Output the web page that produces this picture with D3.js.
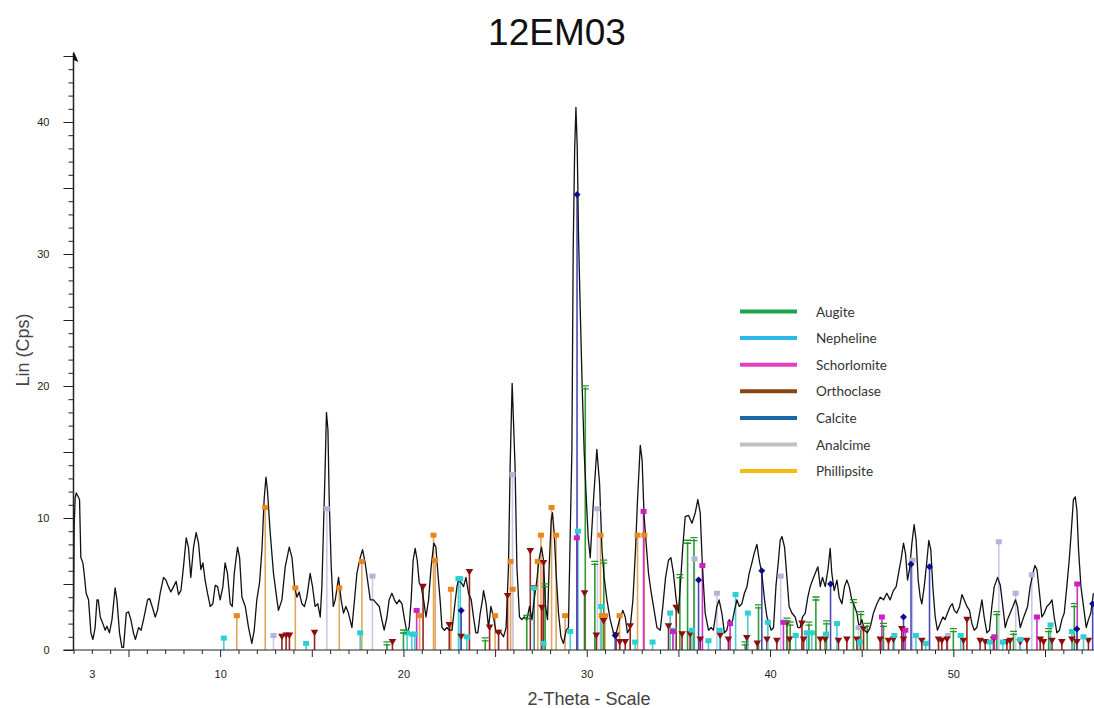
<!DOCTYPE html>
<html>
<head>
<meta charset="utf-8">
<script src="https://cdn.jsdelivr.net/npm/d3@7"></script>
<style>
	body { margin: 0; background: #fff; }
	svg { display: block; }
	.tick text { font-family: "Liberation Sans", Arial, sans-serif; font-size: 11px; fill: #222; }
	.legend text { font-family: Lato, "Noto Sans", sans-serif; font-size: 13.5px; fill: #333; }
</style>
</head>
<body>
<svg id="chart"></svg>
<script>
const traceTheta = [
	2.00, 2.04, 2.09, 2.15, 2.22, 2.33, 2.40, 2.51, 2.58, 2.69, 2.82, 2.95, 3.06, 3.18, 3.28, 3.35, 3.46, 3.60, 3.73, 3.82,
	3.96, 4.10, 4.27, 4.37, 4.51, 4.64, 4.73, 4.88, 5.00, 5.13, 5.27, 5.38, 5.55, 5.69, 5.82, 6.04, 6.15, 6.29, 6.46, 6.58,
	6.73, 6.91, 7.04, 7.18, 7.31, 7.46, 7.60, 7.73, 7.86, 8.00, 8.15, 8.27, 8.40, 8.55, 8.69, 8.82, 8.95, 9.06, 9.18, 9.31,
	9.46, 9.60, 9.73, 9.86, 10.00, 10.15, 10.27, 10.40, 10.55, 10.66, 10.77, 10.95, 11.06, 11.19, 11.37, 11.55, 11.73, 11.86, 12.00, 12.15,
	12.28, 12.40, 12.50, 12.58, 12.73, 12.91, 13.10, 13.18, 13.37, 13.55, 13.77, 13.92, 14.06, 14.19, 14.31, 14.46, 14.60, 14.73, 14.91, 15.04,
	15.18, 15.33, 15.46, 15.55, 15.64, 15.73, 15.80, 15.88, 15.95, 16.06, 16.17, 16.28, 16.46, 16.60, 16.73, 16.86, 17.00, 17.19, 17.33, 17.46,
	17.64, 17.77, 17.91, 18.06, 18.19, 18.37, 18.55, 18.68, 18.82, 18.95, 19.10, 19.22, 19.37, 19.51, 19.64, 19.77, 19.92, 20.06, 20.19, 20.31,
	20.42, 20.53, 20.64, 20.75, 20.86, 20.97, 21.10, 21.23, 21.37, 21.51, 21.66, 21.77, 21.88, 22.00, 22.10, 22.24, 22.37, 22.50, 22.65, 22.79,
	22.92, 23.00, 23.15, 23.28, 23.41, 23.55, 23.70, 23.82, 23.95, 24.06, 24.19, 24.31, 24.37, 24.51, 24.64, 24.77, 24.91, 25.06, 25.19, 25.32,
	25.46, 25.60, 25.73, 25.82, 25.93, 26.09, 26.19, 26.33, 26.46, 26.59, 26.73, 26.88, 27.01, 27.13, 27.28, 27.39, 27.53, 27.64, 27.75, 27.86,
	27.95, 28.06, 28.13, 28.22, 28.33, 28.46, 28.59, 28.73, 28.88, 29.00, 29.10, 29.19, 29.26, 29.34, 29.41, 29.48, 29.55, 29.64, 29.75, 29.86,
	29.97, 30.08, 30.19, 30.37, 30.55, 30.70, 30.83, 30.95, 31.10, 31.28, 31.46, 31.61, 31.79, 31.97, 32.10, 32.22, 32.37, 32.52, 32.66, 32.77,
	32.92, 33.02, 33.13, 33.24, 33.37, 33.50, 33.64, 33.83, 34.01, 34.15, 34.30, 34.46, 34.59, 34.73, 34.88, 35.00, 35.10, 35.24, 35.37, 35.55,
	35.74, 35.92, 36.06, 36.19, 36.31, 36.46, 36.64, 36.79, 36.91, 37.10, 37.22, 37.37, 37.51, 37.64, 37.77, 37.92, 38.06, 38.19, 38.32, 38.46,
	38.60, 38.74, 38.86, 39.01, 39.13, 39.28, 39.41, 39.55, 39.70, 39.83, 39.95, 40.06, 40.19, 40.32, 40.46, 40.55, 40.65, 40.79, 40.92, 41.04,
	41.19, 41.37, 41.52, 41.64, 41.77, 41.92, 42.06, 42.19, 42.32, 42.46, 42.61, 42.74, 42.86, 43.01, 43.16, 43.28, 43.37, 43.50, 43.65, 43.77,
	43.92, 44.06, 44.19, 44.32, 44.46, 44.61, 44.74, 44.86, 45.01, 45.15, 45.30, 45.46, 45.64, 45.83, 46.01, 46.19, 46.37, 46.55, 46.73, 46.88,
	47.01, 47.14, 47.28, 47.39, 47.50, 47.61, 47.74, 47.86, 47.97, 48.08, 48.19, 48.28, 48.41, 48.56, 48.66, 48.77, 48.88, 49.01, 49.13, 49.28,
	49.43, 49.55, 49.68, 49.83, 49.94, 50.05, 50.19, 50.34, 50.47, 50.59, 50.74, 50.88, 51.01, 51.14, 51.28, 51.43, 51.56, 51.68, 51.83, 51.97,
	52.10, 52.23, 52.34, 52.41, 52.56, 52.70, 52.83, 52.95, 53.10, 53.25, 53.39, 53.50, 53.65, 53.79, 53.92, 54.05, 54.19, 54.34, 54.45, 54.56,
	54.70, 54.83, 54.96, 55.10, 55.25, 55.38, 55.50, 55.65, 55.79, 55.92, 56.05, 56.19, 56.32, 56.43, 56.55, 56.65, 56.74, 56.83, 56.96, 57.10,
	57.25, 57.37, 57.50, 57.64
];
const traceCounts = [
	3.0, 9.5, 11.5, 11.9, 11.7, 11.4, 7.0, 6.6, 5.8, 4.3, 3.8, 1.3, 0.8, 1.7, 3.8, 3.8, 2.5, 2.0, 1.5, 1.8,
	1.3, 2.3, 4.7, 3.8, 1.3, 0.2, 0.2, 2.8, 2.9, 2.3, 1.3, 0.8, 1.7, 1.5, 2.3, 3.8, 3.9, 3.3, 2.5, 3.0,
	4.3, 5.5, 5.3, 4.8, 4.4, 4.8, 5.2, 4.2, 4.5, 6.3, 8.5, 7.8, 5.5, 7.8, 8.9, 8.1, 6.1, 6.6, 5.3, 4.3,
	3.3, 3.5, 4.9, 4.8, 3.8, 4.8, 6.6, 5.8, 3.5, 3.3, 5.8, 7.8, 7.0, 4.0, 3.3, 1.7, 0.5, 1.5, 3.8, 5.1,
	7.6, 11.4, 13.1, 12.1, 8.9, 5.8, 3.8, 3.0, 3.8, 6.3, 7.8, 7.0, 4.8, 4.0, 4.4, 3.5, 3.3, 4.0, 5.8, 4.8,
	3.3, 3.5, 2.5, 4.8, 9.3, 13.9, 18.0, 16.7, 11.4, 6.3, 3.3, 3.8, 5.5, 3.8, 2.8, 3.3, 2.8, 1.7, 3.8, 5.8,
	7.0, 7.6, 6.6, 5.1, 3.8, 3.8, 3.5, 3.3, 2.3, 1.5, 2.5, 3.8, 4.3, 3.8, 3.5, 3.8, 3.5, 2.3, 1.3, 1.7,
	3.8, 6.8, 7.7, 6.8, 5.1, 4.8, 3.8, 2.5, 3.8, 6.3, 8.1, 7.8, 5.8, 3.8, 1.7, 1.5, 1.7, 1.5, 1.5, 3.3,
	4.8, 5.3, 5.1, 4.8, 5.5, 4.3, 3.8, 2.5, 1.3, 1.3, 2.8, 3.8, 4.5, 3.5, 1.7, 3.3, 2.5, 1.3, 1.5, 1.3,
	1.0, 1.7, 6.3, 13.9, 20.2, 13.9, 6.3, 2.5, 2.3, 2.5, 2.3, 3.3, 2.3, 3.8, 5.3, 6.8, 7.8, 6.8, 3.3, 2.3,
	6.3, 9.8, 10.4, 8.9, 5.8, 2.8, 1.0, 0.5, 1.5, 1.7, 8.9, 15.2, 30.3, 37.9, 41.1, 38.1, 31.5, 26.0, 20.0, 15.0,
	11.6, 8.5, 7.0, 11.4, 15.2, 12.6, 7.6, 5.5, 3.8, 2.3, 1.3, 1.3, 2.3, 3.0, 2.5, 1.3, 1.7, 3.8, 7.6, 11.4,
	15.5, 14.4, 10.1, 8.1, 5.8, 4.5, 3.3, 1.7, 1.5, 3.3, 5.5, 6.8, 7.0, 5.8, 3.8, 2.8, 4.8, 7.8, 10.1, 10.2,
	9.6, 10.4, 11.4, 10.4, 6.3, 2.8, 1.5, 1.7, 1.5, 3.3, 3.8, 2.8, 1.3, 1.5, 2.3, 2.0, 3.0, 3.8, 3.3, 3.5,
	4.3, 4.8, 5.8, 6.6, 7.3, 8.0, 6.8, 5.8, 3.8, 2.5, 2.0, 1.5, 1.7, 4.8, 6.8, 8.3, 8.6, 7.8, 5.5, 3.3,
	2.8, 2.5, 1.7, 1.7, 2.5, 2.8, 4.0, 4.8, 5.3, 5.8, 6.3, 4.8, 5.5, 4.8, 6.1, 7.7, 5.8, 4.5, 5.3, 4.0,
	3.5, 4.8, 5.3, 4.8, 3.8, 3.3, 2.8, 1.7, 2.3, 1.5, 1.3, 1.7, 2.8, 3.5, 4.0, 3.8, 4.3, 3.8, 4.5, 4.8,
	5.8, 6.8, 8.1, 7.3, 5.3, 6.1, 8.1, 9.5, 8.3, 5.3, 4.0, 3.5, 4.8, 6.8, 8.3, 7.6, 4.8, 2.5, 1.5, 2.0,
	2.5, 2.3, 2.8, 3.3, 3.5, 3.0, 2.8, 3.3, 4.2, 3.8, 3.3, 3.0, 2.0, 1.5, 1.7, 2.8, 3.8, 2.5, 1.3, 1.5,
	3.3, 4.8, 5.2, 5.5, 4.9, 3.3, 1.7, 2.3, 2.8, 3.3, 3.8, 3.3, 1.7, 2.3, 2.8, 3.3, 4.8, 5.8, 6.4, 6.1,
	4.3, 2.5, 2.8, 3.3, 3.5, 3.8, 2.5, 1.3, 1.5, 2.3, 2.8, 4.8, 6.8, 8.9, 11.4, 11.6, 10.6, 7.6, 4.8, 3.3,
	1.7, 2.3, 2.8, 4.3
];

//Reference patterns (stick positions and heights) for each phase.
const augitePos = [19.10, 20.00, 24.46, 26.73, 27.73, 29.92, 30.44, 30.93, 35.08, 35.50, 35.85, 38.64, 39.37, 40.92, 41.10, 42.12, 42.50, 43.08, 44.55, 44.95, 45.30, 46.19, 50.00, 52.37, 53.28, 55.20, 56.60];
const augiteInt = [0.5, 1.4, 0.8, 2.5, 4.9, 19.9, 6.6, 6.7, 5.6, 8.2, 8.4, 0.5, 3.3, 2.3, 2.0, 2.0, 3.9, 2.1, 3.7, 2.8, 1.9, 1.9, 1.5, 2.8, 1.3, 1.5, 3.4];
const nephelinePos = [10.20, 14.69, 17.64, 20.20, 20.46, 20.62, 23.00, 23.10, 23.46, 27.10, 27.64, 29.10, 29.52, 30.79, 32.64, 33.59, 34.55, 34.73, 35.74, 36.64, 37.25, 38.12, 38.79, 39.88, 41.40, 42.00, 42.28, 43.05, 43.65, 44.90, 46.78, 47.96, 48.50, 50.40, 52.00, 52.70, 53.65, 55.30, 56.47, 57.10];
const nephelineInt = [0.9, 0.5, 1.3, 1.3, 1.2, 1.2, 5.4, 5.4, 1.0, 4.7, 0.5, 1.4, 9.0, 3.3, 0.6, 0.6, 2.8, 1.5, 1.5, 0.7, 1.5, 4.2, 2.8, 2.1, 1.1, 1.3, 1.3, 1.2, 2.0, 0.6, 1.1, 1.1, 0.5, 1.1, 0.6, 0.6, 0.8, 1.9, 1.4, 1.0];
const schorlomitePos = [20.72, 29.46, 33.10, 34.70, 36.31, 37.82, 40.73, 46.10, 47.38, 52.24, 54.56, 56.76];
const schorlomiteInt = [3.0, 8.5, 10.5, 1.4, 6.4, 2.0, 2.1, 2.5, 1.5, 1.0, 2.5, 5.0];
const orthoclasePos = [13.37, 13.60, 13.78, 15.15, 19.40, 21.07, 22.50, 23.15, 23.60, 24.70, 25.19, 25.68, 26.92, 27.13, 27.55, 27.64, 29.88, 30.52, 30.92, 31.60, 31.80, 32.10, 32.37, 34.46, 34.88, 35.20, 35.64, 36.19, 37.28, 37.73, 38.73, 39.30, 39.83, 40.37, 40.92, 41.06, 41.74, 41.83, 42.74, 43.01, 43.73, 44.19, 44.74, 45.10, 46.01, 46.46, 46.73, 47.19, 47.28, 48.28, 49.19, 49.37, 49.65, 50.55, 50.74, 51.46, 51.74, 52.19, 52.92, 53.10, 53.65, 54.01, 54.74, 54.92, 55.38, 55.92, 56.47, 56.74, 57.37];
const orthoclaseInt = [1.0, 1.1, 1.1, 1.3, 0.6, 4.8, 1.9, 1.0, 5.9, 1.7, 1.3, 4.1, 7.5, 4.7, 3.2, 6.6, 4.3, 1.1, 2.2, 1.1, 0.6, 0.6, 1.8, 1.8, 3.2, 1.2, 1.2, 0.8, 1.1, 0.8, 0.9, 0.5, 0.8, 0.7, 2.0, 0.8, 2.0, 0.8, 0.8, 0.8, 0.7, 0.8, 0.8, 1.6, 0.8, 0.7, 0.8, 1.6, 0.8, 0.7, 0.8, 0.7, 0.8, 0.7, 2.3, 0.7, 0.6, 0.8, 0.6, 0.7, 0.6, 0.7, 0.8, 0.6, 0.7, 0.6, 0.8, 0.6, 0.7];
const calcitePos = [23.15, 29.47, 31.55, 36.10, 39.55, 43.30, 47.28, 47.69, 48.70, 56.74, 57.60];
const calciteInt = [3.0, 34.5, 1.1, 5.3, 6.0, 5.0, 2.5, 6.5, 6.3, 1.6, 3.5];
const analcimePos = [12.91, 15.82, 18.31, 25.95, 30.58, 35.88, 37.10, 40.58, 44.83, 47.77, 49.70, 52.48, 53.40, 54.28];
const analcimeInt = [1.1, 10.7, 5.6, 13.3, 10.7, 6.9, 4.3, 5.6, 1.7, 6.8, 1.1, 8.2, 4.3, 5.7];
const phillipsitePos = [10.91, 12.46, 14.10, 16.50, 17.73, 20.88, 21.64, 21.73, 22.59, 25.00, 25.84, 25.96, 27.33, 27.50, 28.08, 28.33, 28.82, 30.75, 30.82, 31.00, 31.79, 32.77, 33.14];
const phillipsiteInt = [2.6, 10.8, 4.7, 4.7, 6.7, 2.6, 8.7, 6.8, 4.6, 2.6, 6.7, 4.6, 6.7, 8.7, 10.8, 8.7, 2.6, 8.7, 2.6, 2.6, 2.6, 8.7, 8.7];

//Legend.
const phaseNames = ['Augite', 'Nepheline', 'Schorlomite', 'Orthoclase', 'Calcite', 'Analcime', 'Phillipsite'];
const legendColors = ['#1fa34a', '#2db6e8', '#e23fc3', '#8b4513', '#1b67a6', '#c0c0c0', '#f7b90d'];

//Axis labels.
const xLabelValues = [3, 10, 20, 30, 40, 50];
const yLabelValues = [0, 10, 20, 30, 40];

const width = 1094, height = 708;
const svg = d3.select('#chart').attr('width', width).attr('height', height);

const x = d3.scaleLinear().domain([2, 57.7]).range([73.5, 1094.5]);
const y = d3.scaleLinear().domain([0, 45]).range([650, 56]);

//Stick styles per phase: stick colour, marker colour, marker type.
const phases = [
	{pos: phillipsitePos, val: phillipsiteInt, stick: '#e6a55c', mark: '#e8871e', type: 'square'},
	{pos: analcimePos, val: analcimeInt, stick: '#c9c9ea', mark: '#b3b3dc', type: 'square'},
	{pos: orthoclasePos, val: orthoclaseInt, stick: '#9a2323', mark: '#8c0f0f', type: 'tri'},
	{pos: nephelinePos, val: nephelineInt, stick: '#46cfd6', mark: '#2ccfd2', type: 'square'},
	{pos: schorlomitePos, val: schorlomiteInt, stick: '#d22ccb', mark: '#cc1fc4', type: 'square'},
	{pos: augitePos, val: augiteInt, stick: '#2f9d34', mark: '#23932a', type: 'eq'},
	{pos: calcitePos, val: calciteInt, stick: '#4a4ab4', mark: '#0c0c8c', type: 'diamond'}
];

const plot = svg.append('g').attr('class', 'plot');

//Sticks first, under the trace.
phases.forEach(p => {
	plot.append('g').selectAll('line')
		.data(p.pos.map((d, i) => [d, p.val[i]]))
		.join('line')
		.attr('x1', d => x(d[0])).attr('x2', d => x(d[0]))
		.attr('y1', y(0)).attr('y2', d => y(d[1]))
		.attr('stroke', p.stick)
		.attr('stroke-width', 1.6);
});

//Measured trace.
const line = d3.line()
	.x((d, i) => x(traceTheta[i]))
	.y(d => y(d));
plot.append('path')
	.attr('d', line(traceCounts))
	.attr('fill', 'none')
	.attr('stroke', '#111')
	.attr('stroke-width', 1.3)
	.attr('stroke-linejoin', 'round');

//Markers on top of the sticks.
phases.forEach(p => {
	const g = plot.append('g');
	const pts = p.pos.map((d, i) => [x(d), y(p.val[i])]);
	if (p.type === 'square') {
		g.selectAll('rect').data(pts).join('rect')
			.attr('x', d => d[0] - 3).attr('y', d => d[1] - 2.5)
			.attr('width', 6).attr('height', 5)
			.attr('fill', p.mark);
	} else if (p.type === 'tri') {
		g.selectAll('path').data(pts).join('path')
			.attr('d', d => `M${d[0] - 3.8},${d[1] - 3}L${d[0] + 3.8},${d[1] - 3}L${d[0]},${d[1] + 3.5}Z`)
			.attr('fill', p.mark);
	} else if (p.type === 'diamond') {
		g.selectAll('path').data(pts).join('path')
			.attr('d', d => `M${d[0]},${d[1] - 3.5}L${d[0] + 3.5},${d[1]}L${d[0]},${d[1] + 3.5}L${d[0] - 3.5},${d[1]}Z`)
			.attr('fill', p.mark);
	} else {
		g.selectAll('path').data(pts).join('path')
			.attr('d', d => `M${d[0] - 3.5},${d[1] - 1.5}h7M${d[0] - 3.5},${d[1] + 1.5}h7`)
			.attr('stroke', p.mark)
			.attr('stroke-width', 1.3);
	}
});

//Axes.
const xMinor = d3.range(2, 58);
const xAxisG = svg.append('g').attr('transform', `translate(0, ${y(0)})`);
xAxisG.call(d3.axisBottom(x).tickValues(xMinor.filter(d => d % 5 !== 0)).tickSize(4).tickFormat(''));
xAxisG.append('g').call(d3.axisBottom(x).tickValues(xMinor.filter(d => d % 5 === 0)).tickSize(7).tickFormat(''));
xAxisG.append('g').call(d3.axisBottom(x).tickValues(xLabelValues).tickSize(0).tickPadding(20));
xAxisG.selectAll('.domain').remove();
xAxisG.selectAll('line').attr('stroke', '#222');
xAxisG.append('line')
	.attr('x1', x(2) - 10).attr('x2', width)
	.attr('stroke', '#222').attr('stroke-width', 1.2);

const yMinor = d3.range(0, 46);
const yAxisG = svg.append('g').attr('transform', `translate(${x(2)}, 0)`);
yAxisG.call(d3.axisLeft(y).tickValues(yMinor.filter(d => d % 5 !== 0)).tickSize(5).tickFormat(''));
yAxisG.append('g').call(d3.axisLeft(y).tickValues(yMinor.filter(d => d % 5 === 0)).tickSize(10).tickFormat(''));
yAxisG.append('g').call(d3.axisLeft(y).tickValues(yLabelValues).tickSize(0).tickPadding(24));
yAxisG.selectAll('.domain').remove();
yAxisG.selectAll('line').attr('stroke', '#222');
yAxisG.append('line')
	.attr('y1', y(0)).attr('y2', y(45) - 3)
	.attr('stroke', '#222').attr('stroke-width', 1.5);
//Arrow head at the top of the intensity axis.
yAxisG.append('path')
	.attr('d', `M0,${y(45) - 5}L5,${y(45) + 6}L0,${y(45) + 4}Z`)
	.attr('fill', '#111');

//Title and axis titles.
svg.append('text')
	.text('12EM03')
	.attr('x', 557).attr('y', 45)
	.attr('text-anchor', 'middle')
	.style('font-family', '"Liberation Sans", Arial, sans-serif')
	.style('font-size', '37px')
	.style('fill', '#111');
svg.append('text')
	.text('Lin (Cps)')
	.attr('transform', 'translate(29, 350) rotate(-90)')
	.attr('text-anchor', 'middle')
	.style('font-family', '"Liberation Sans", Arial, sans-serif')
	.style('font-size', '18px')
	.style('fill', '#444');
svg.append('text')
	.text('2-Theta - Scale')
	.attr('x', 589).attr('y', 705)
	.attr('text-anchor', 'middle')
	.style('font-family', '"Liberation Sans", Arial, sans-serif')
	.style('font-size', '18px')
	.style('fill', '#444');

//Legend.
const legend = svg.append('g').attr('class', 'legend')
	.attr('transform', 'translate(740, 311.5)');
const rows = legend.selectAll('g').data(phaseNames).join('g')
	.attr('transform', (d, i) => `translate(0, ${i * 26.6})`);
rows.append('line')
	.attr('x1', 0).attr('x2', 57)
	.attr('stroke', (d, i) => legendColors[i])
	.attr('stroke-width', 4);
rows.append('text')
	.text(d => d)
	.attr('x', 76).attr('y', 5);
</script>
</body>
</html>
